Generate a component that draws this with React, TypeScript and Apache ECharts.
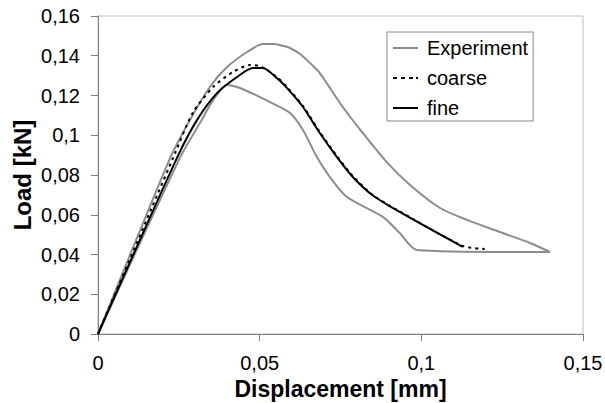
import React, { useEffect, useRef } from "react";
import * as echarts from "echarts";

// Experiment: upper branch (origin -> right end) and lower branch (right end -> origin)
const expUpperX = [
  0, 0.0223, 0.0284, 0.0346, 0.0399, 0.0461, 0.051, 0.0545, 0.0575, 0.0594, 0.0625, 0.0656, 0.0686,
  0.0757, 0.0819, 0.0893, 0.0965, 0.1058, 0.1141, 0.1243, 0.1336, 0.1398,
];
const expUpperY = [
  0, 0.0885, 0.1076, 0.1243, 0.1343, 0.1419, 0.1459, 0.1459, 0.1449, 0.1439, 0.1409, 0.1363, 0.1313,
  0.1142, 0.1011, 0.0865, 0.075, 0.0634, 0.0574, 0.0513, 0.0458, 0.0413,
];
const expLowerX = [
  0.1398, 0.1273, 0.0986, 0.0933, 0.0881, 0.077, 0.0717, 0.0677, 0.0634, 0.0594, 0.0532, 0.0501,
  0.0439, 0.0399, 0.0356, 0.0315, 0.0253, 0,
];
const expLowerY = [
  0.0413, 0.0413, 0.0423, 0.0508, 0.0589, 0.0689, 0.079, 0.089, 0.1026, 0.1112, 0.1167, 0.1192,
  0.1238, 0.1253, 0.1177, 0.1061, 0.0885, 0,
];

const coarseX = [
  0, 0.0232, 0.0293, 0.0356, 0.0417, 0.047, 0.0501, 0.0553, 0.0584, 0.0634, 0.0686, 0.0739, 0.0788,
  0.085, 0.0933, 0.1128, 0.1196,
];
const coarseY = [
  0, 0.0885, 0.1112, 0.1243, 0.1318, 0.1353, 0.1348, 0.1293, 0.1243, 0.1147, 0.1016, 0.0895, 0.0795,
  0.0699, 0.0617, 0.0443, 0.0428,
];

const fineX = [
  0, 0.0244, 0.0306, 0.0368, 0.043, 0.0479, 0.051, 0.0553, 0.0584, 0.0634, 0.0686, 0.0739, 0.0788,
  0.085, 0.0933, 0.1128,
];
const fineY = [
  0, 0.0885, 0.1076, 0.1212, 0.1293, 0.1338, 0.1338, 0.1288, 0.1238, 0.1142, 0.1011, 0.089, 0.079,
  0.0697, 0.0614, 0.0438,
];

const seriesNames = ["Experiment", "coarse", "fine"];
const xTitle = "Displacement [mm]";
const yTitle = "Load [kN]";

const zip = (xs: number[], ys: number[]) => xs.map((x, i) => [x, ys[i]]);
const fmt = (v: number) => String(parseFloat(v.toFixed(3))).replace(".", ",");

const FONT = "'Liberation Sans', Arial, sans-serif";
const GRAY = "#8c8c8c";

const solidIcon = "path://M0,0H25V2H0Z";
const dashIcon = "path://M0,0H4V2H0Z M8,0H12V2H8Z M16,0H20V2H16Z M23,0H25V2H23Z";

export default function App() {
  const ref = useRef<HTMLDivElement>(null);
  useEffect(() => {
    if (!ref.current) return;
    const chart = echarts.init(ref.current, null, { renderer: "svg" });
    const expStyle = {
      type: "line",
      name: seriesNames[0],
      symbol: "none",
      showSymbol: false,
      smooth: 0.25,
      lineStyle: { color: GRAY, width: 2 },
      itemStyle: { color: GRAY },
      z: 2,
    };
    chart.setOption({
      animation: false,
      backgroundColor: "#ffffff",
      textStyle: { fontFamily: FONT },
      grid: {
        left: 98,
        right: 22,
        top: 16,
        bottom: 69,
        outerBoundsMode: "none",
        containLabel: false,
        show: true,
        borderColor: "#bdbdbd",
        borderWidth: 1,
      },
      legend: {
        orient: "vertical",
        left: 387,
        top: 32,
        width: 148,
        padding: [6, 5, 3, 6],
        borderColor: "#8a8a8a",
        borderWidth: 1,
        backgroundColor: "#ffffff",
        itemWidth: 25,
        itemHeight: 2,
        itemGap: 10,
        data: [
          { name: seriesNames[0], icon: solidIcon, itemStyle: { color: GRAY } },
          { name: seriesNames[1], icon: dashIcon, itemStyle: { color: "#000" } },
          { name: seriesNames[2], icon: solidIcon, itemStyle: { color: "#000" } },
        ],
        textStyle: { fontSize: 20, color: "#000", fontFamily: FONT, lineHeight: 20, padding: [0, 0, 0, 4] },
      },
      xAxis: {
        type: "value",
        min: 0,
        max: 0.15,
        interval: 0.05,
        name: xTitle,
        nameLocation: "middle",
        nameGap: 43,
        nameMoveOverlap: false,
        nameTextStyle: { fontSize: 23, fontWeight: "bold", color: "#000", fontFamily: FONT },
        axisLine: { show: true, lineStyle: { color: "#808080", width: 1 } },
        axisTick: { show: true, length: 7, lineStyle: { color: "#808080" } },
        axisLabel: { fontSize: 20, color: "#000", margin: 19, formatter: fmt, fontFamily: FONT },
        splitLine: { show: false },
      },
      yAxis: {
        type: "value",
        min: 0,
        max: 0.16,
        interval: 0.02,
        name: yTitle,
        nameLocation: "middle",
        nameGap: 64,
        nameMoveOverlap: false,
        nameTextStyle: { fontSize: 24, fontWeight: "bold", color: "#000", fontFamily: FONT },
        axisLine: { show: true, lineStyle: { color: "#808080", width: 1 } },
        axisTick: { show: true, length: 7, lineStyle: { color: "#808080" } },
        axisLabel: { fontSize: 20, color: "#000", margin: 18, formatter: fmt, fontFamily: FONT },
        splitLine: { show: false },
      },
      series: [
        { ...expStyle, data: zip(expUpperX, expUpperY) },
        { ...expStyle, data: zip(expLowerX, expLowerY) },
        {
          name: seriesNames[1],
          type: "line",
          data: zip(coarseX, coarseY),
          symbol: "none",
          showSymbol: false,
          smooth: 0.25,
          lineStyle: { color: "#000", width: 2, type: [3, 4] },
          itemStyle: { color: "#000" },
          z: 3,
        },
        {
          name: seriesNames[2],
          type: "line",
          data: zip(fineX, fineY),
          symbol: "none",
          showSymbol: false,
          smooth: 0.25,
          lineStyle: { color: "#000", width: 2 },
          itemStyle: { color: "#000" },
          z: 4,
        },
      ],
    });
    return () => chart.dispose();
  }, []);
  return (
    <div
      ref={ref}
      style={{ position: "fixed", left: 0, top: 0, width: 605, height: 403, background: "#fff" }}
    />
  );
}
